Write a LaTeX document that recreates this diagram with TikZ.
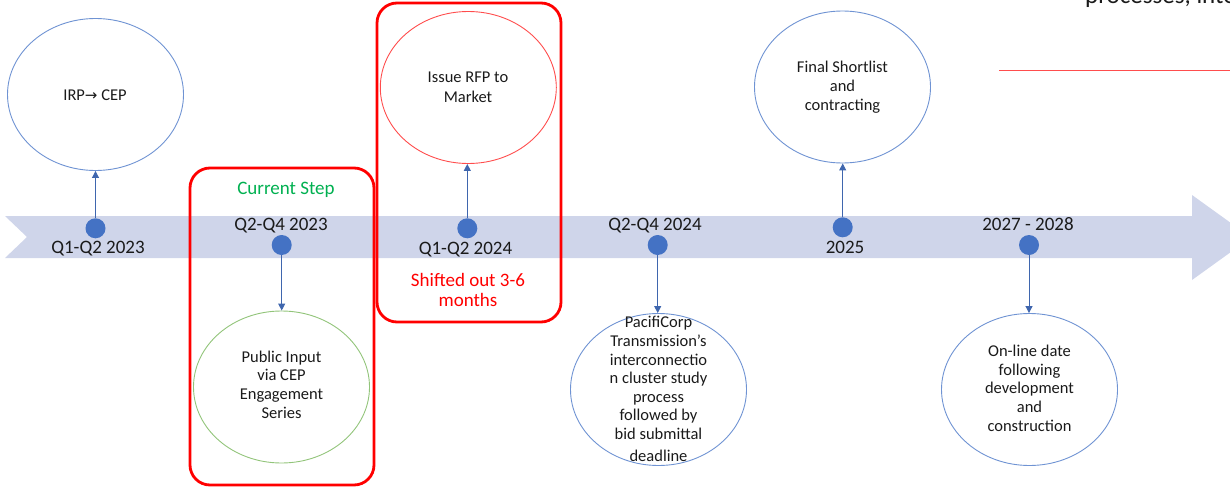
\documentclass[tikz,border=0pt]{standalone}
\usepackage{fontspec}
\setmainfont{Carlito}
\newfontfamily\dejavu{DejaVu Sans}
\usetikzlibrary{shapes.geometric,arrows.meta}
\definecolor{bandcol}{HTML}{CFD5EA}
\definecolor{dotcol}{HTML}{4472C4}
\definecolor{arrcol}{HTML}{3F66AE}
\definecolor{ellblue}{HTML}{6F93D3}
\definecolor{ellred}{HTML}{FF4D4D}
\definecolor{ellgreen}{HTML}{92C47A}
\definecolor{stepgreen}{HTML}{00B050}
\definecolor{txt}{HTML}{1A1A1A}
\begin{document}
\begin{tikzpicture}[x=1pt,y=-1pt,
  dot/.style={circle,fill=dotcol,minimum size=20pt,inner sep=0},
  datelab/.style={font=\fontsize{19}{23}\selectfont,text=txt,inner sep=0,anchor=base},
  bigell/.style={ellipse,draw=#1,line width=0.9pt,minimum width=176pt,minimum height=152pt,inner sep=0},
  elltext/.style={font=\fontsize{16.5}{18.6}\selectfont,text=txt,align=center,inner sep=0},
  conn/.style={draw=arrcol,line width=1pt,-{Triangle[width=7pt,length=7pt]}},
  redbox/.style={draw=red,line width=2.8pt,rounded corners=20pt,inner sep=0}]
\useasboundingbox (0,0) rectangle (1230,487);
\clip (0,0) rectangle (1230,487);
% timeline band
\fill[bandcol] (5,216) -- (1192,216) -- (1192,195) -- (1251,237.5) -- (1192,280)
  -- (1192,258) -- (5,258) -- (27,237) -- cycle;
% red highlight boxes
\node[redbox,minimum width=184pt,minimum height=317pt] (box1) at (282,326.5) {};
\node[redbox,minimum width=184pt,minimum height=319pt] (box2) at (469,162.5) {};
% ellipses
\node[bigell=ellblue] (e1) at (95.5,94.5) {};
\node[bigell=ellred] (e3) at (468.3,87.5) {};
\node[bigell=ellblue] (e5) at (842.5,87) {};
\node[bigell=ellgreen] (e2) at (281.5,387) {};
\node[bigell=ellblue] (e4) at (658.5,389.5) {};
\node[bigell=ellblue] (e6) at (1029.5,389.5) {};
% ellipse texts (base anchor = baseline of last line)
\node[elltext,anchor=base] (t1) at (95,100) {IRP{\dejavu\fontsize{15}{18}\selectfont →} CEP};
\node[elltext,anchor=base,font=\fontsize{16.5}{20}\selectfont] (t3) at (468,102.3) {Issue RFP to\\Market};
\node[elltext,anchor=base] (t5) at (842.5,110) {Final Shortlist\\and\\contracting};
\node[elltext,anchor=base] (t2) at (281.5,418) {Public Input\\via CEP\\Engagement\\Series};
\node[elltext,anchor=base] (t4) at (658.5,461) {PacifiCorp\\Transmission’s\\interconnectio\\n cluster study\\process\\followed by\\bid submittal\\[3pt]deadline};
\node[elltext,anchor=base] (t6) at (1029.5,431) {On-line date\\following\\development\\and\\construction};
% dots
\node[dot] (d1) at (95.5,228.3) {};
\node[dot] (d2) at (281.7,245) {};
\node[dot] (d3) at (467.3,228.3) {};
\node[dot] (d4) at (657.7,245) {};
\node[dot] (d5) at (842.7,227.3) {};
\node[dot] (d6) at (1029,245) {};
% date labels
\node[datelab] (l1) at (98,253.5) {Q1-Q2 2023};
\node[datelab] (l2) at (281,230.7) {Q2-Q4 2023};
\node[datelab] (l3) at (465.5,254) {Q1-Q2 2024};
\node[datelab] (l4) at (655,230.7) {Q2-Q4 2024};
\node[datelab] (l5) at (845,253.5) {2025};
\node[datelab] (l6) at (1028,230.7) {2027 - 2028};
% annotations
\node[datelab,text=stepgreen] (cur) at (286,194) {Current Step};
\node[datelab,text=red,align=center,font=\fontsize{19}{20.5}\selectfont] (shift) at (468,306.7) {Shifted out 3-6\\months};
% connectors
\draw[conn] (d1.north) -- (d1.north |- e1.south);
\draw[conn] (d3.north) -- (d3.north |- e3.south);
\draw[conn] (d5.north) -- (d5.north |- e5.south);
\draw[conn] (d2.south) -- (d2.south |- e2.north);
\draw[conn] (d4.south) -- (d4.south |- e4.north);
\draw[conn] (d6.south) -- (d6.south |- e6.north);
% top-right fragments
\coordinate (rl1) at (999,70.7);
\coordinate (rl2) at (1232,70.7);
\draw[draw=ellred,line width=1.4pt] (rl1) -- (rl2);
\node[anchor=base west,inner sep=0,font=\fontsize{25}{30}\selectfont,text=txt] (cut) at (1085,3.5) {processes, inte};
\end{tikzpicture}
\end{document}
